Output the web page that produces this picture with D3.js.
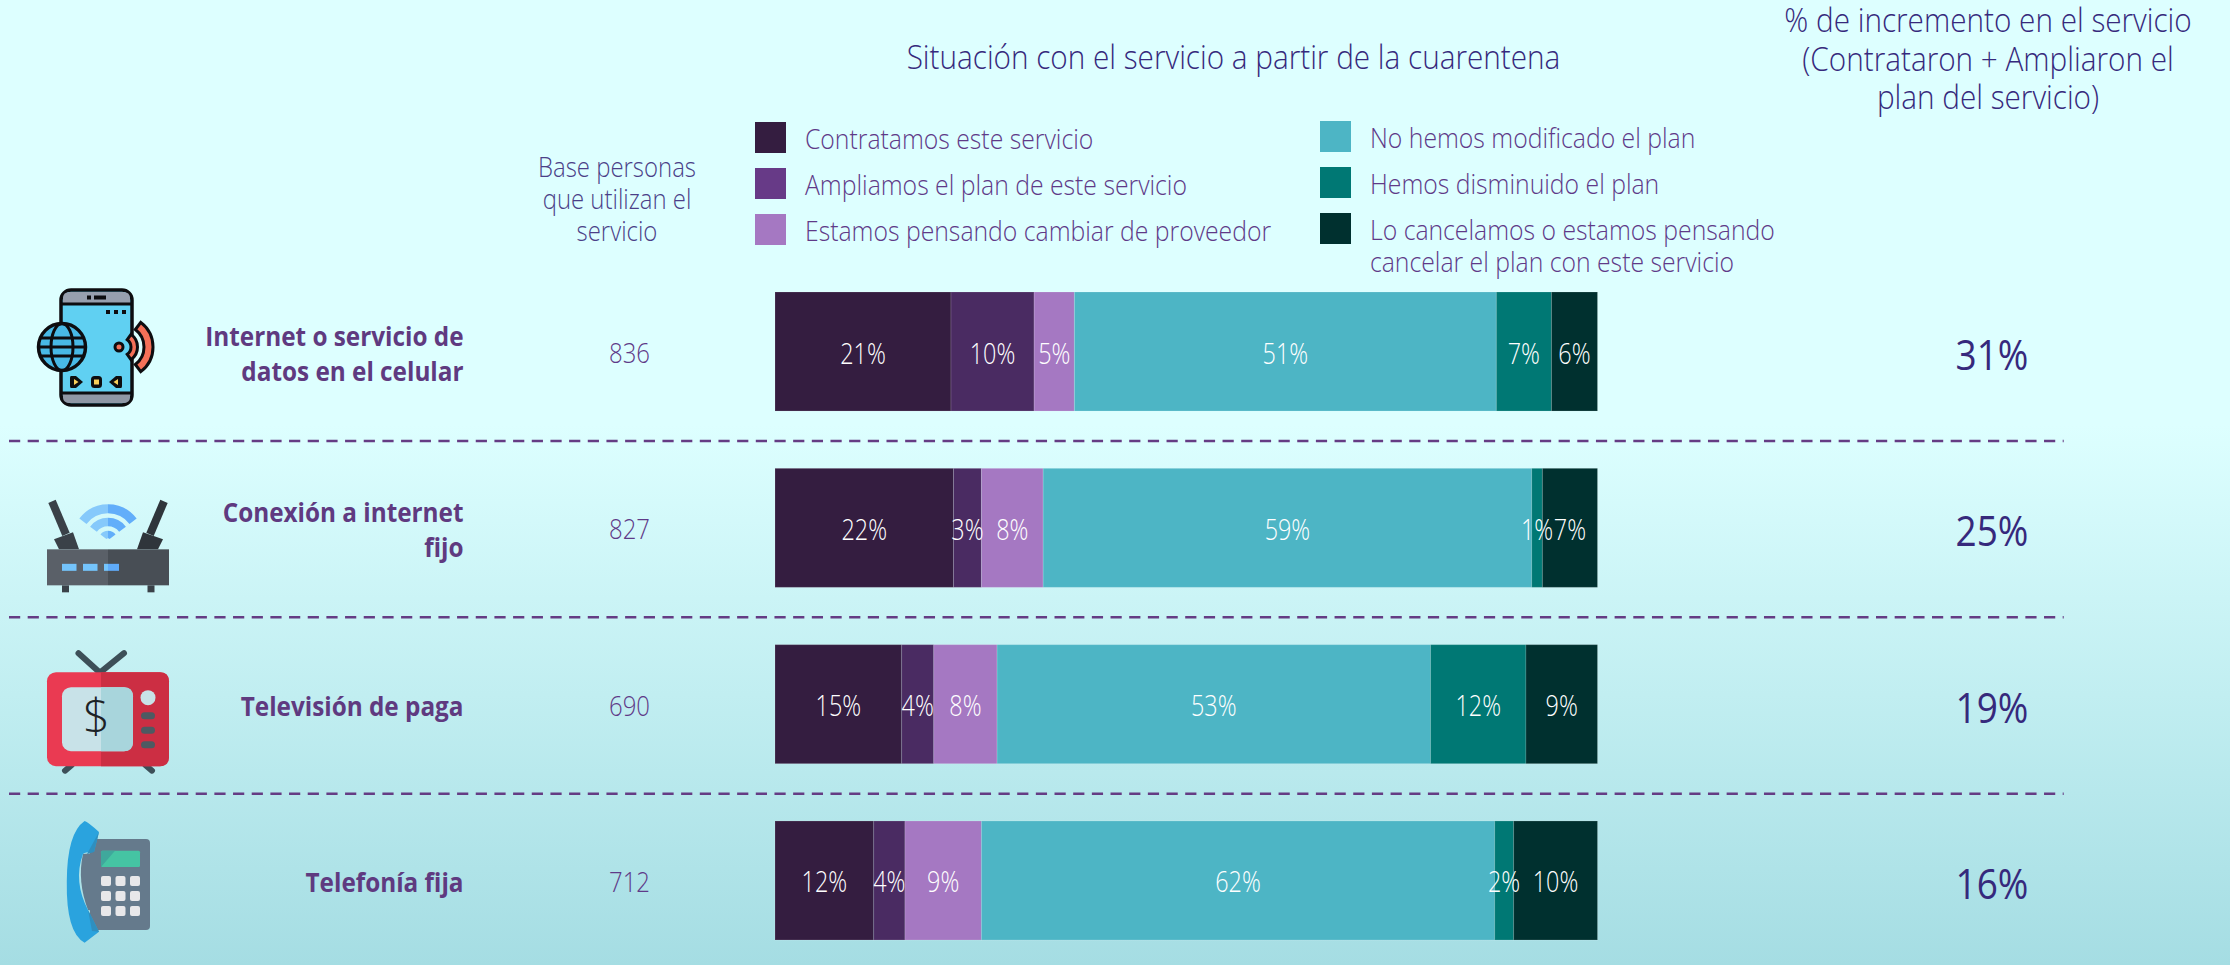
<!DOCTYPE html>
<html>
<head>
<meta charset="utf-8">
<script src="https://cdn.jsdelivr.net/npm/d3@7"></script>
<style>
  html, body { margin: 0; padding: 0; background: #ddffff; overflow: hidden; }
  text { font-family: "Open Sans", sans-serif; }
</style>
</head>
<body>
<div id="chart"></div>
<script>
const categories = ["Internet o servicio de datos en el celular", "Conexión a internet fijo", "Televisión de paga", "Telefonía fija"];
const categoryLines = [["Internet o servicio de", "datos en el celular"], ["Conexión a internet", "fijo"], ["Televisión de paga"], ["Telefonía fija"]];
const baseCounts = [836, 827, 690, 712];
const increments = [31, 25, 19, 16];

const seriesNames = ["Contratamos este servicio", "Ampliamos el plan de este servicio", "Estamos pensando cambiar de proveedor",
    "No hemos modificado el plan", "Hemos disminuido el plan", "Lo cancelamos o estamos pensando cancelar el plan con este servicio"];
const contratamos = [21.4, 21.7, 15.4, 12.0];
const ampliamos = [10.1, 3.4, 3.9, 3.8];
const cambiar = [4.9, 7.5, 7.7, 9.3];
const sinCambio = [51.3, 59.4, 52.7, 62.4];
const disminuido = [6.7, 1.3, 11.6, 2.3];
const cancelado = [5.6, 6.7, 8.7, 10.2];
const seriesValues = [contratamos, ampliamos, cambiar, sinCambio, disminuido, cancelado];

const barColors = ["#341d40", "#4a2b62", "#a578c2", "#4db5c5", "#007874", "#00302f"];
const legendColors = ["#341d40", "#673a87", "#a578c2", "#4db5c5", "#007874", "#00302f"];

const width = 2230, height = 965;
const INK = "#36297c", LILAC = "#5f3a88", BOLD = "#5f3a80";

const svg = d3.select("#chart").append("svg")
    .attr("width", width).attr("height", height)
    .attr("viewBox", `0 0 ${width} ${height}`)
    .style("display", "block");

const grad = svg.append("defs").append("linearGradient")
    .attr("id", "bg").attr("x1", 0).attr("x2", 0).attr("y1", 0).attr("y2", 1);
grad.append("stop").attr("offset", "44%").attr("stop-color", "#ddffff");
grad.append("stop").attr("offset", "100%").attr("stop-color", "#a5dde3");
svg.append("rect").attr("width", width).attr("height", height).attr("fill", "url(#bg)");

const x = d3.scaleLinear().domain([0, 100]).range([775, 1597.5]);
const y = d3.scaleBand().domain(categories).range([292, 940]).paddingInner(0.325).paddingOuter(0);

// squeeze a text to a share of its natural width, the original font runs narrower
function squeeze(sel, k) {
    sel.each(function () {
        const len = this.getComputedTextLength();
        d3.select(this).attr("textLength", len * k).attr("lengthAdjust", "spacingAndGlyphs");
    });
}

function addText(px, py, str, size, color, weight, anchor) {
    return svg.append("text").attr("x", px).attr("y", py).text(str)
        .attr("font-size", size).attr("fill", color)
        .attr("font-weight", weight).attr("text-anchor", anchor);
}

// headers
squeeze(addText(1233.5, 69, "Situación con el servicio a partir de la cuarentena", 33, INK, 300, "middle"), 0.9);
["% de incremento en el servicio", "(Contrataron + Ampliaron el", "plan del servicio)"].forEach((s, i) => {
    squeeze(addText(1988, 32 + i * 38.5, s, 33, INK, 300, "middle"), 0.9);
});
["Base personas", "que utilizan el", "servicio"].forEach((s, i) => {
    squeeze(addText(617, 176.5 + i * 32, s, 27.5, "#4b3f88", 300, "middle"), 0.87);
});

// legend
const legendSlots = [[755, 122], [755, 168], [755, 214], [1320, 121], [1320, 167], [1320, 213]];
const legendLines = [[seriesNames[0]], [seriesNames[1]], [seriesNames[2]], [seriesNames[3]], [seriesNames[4]],
    ["Lo cancelamos o estamos pensando", "cancelar el plan con este servicio"]];
legendSlots.forEach((slot, i) => {
    svg.append("rect").attr("x", slot[0]).attr("y", slot[1]).attr("width", 31).attr("height", 31)
        .attr("fill", legendColors[i]);
    legendLines[i].forEach((s, j) => {
        squeeze(addText(slot[0] + 50, slot[1] + 26.5 + j * 32, s, 27.5, LILAC, 300, "start"), 0.9);
    });
});

// stacked bars
const rows = categories.map((c, i) => {
    const r = { category: c };
    seriesNames.forEach((n, k) => { r[n] = seriesValues[k][i]; });
    return r;
});
const stacked = d3.stack().keys(seriesNames)(rows);
const pct = d3.format(".0f");

const layers = svg.append("g").selectAll("g").data(stacked).enter().append("g")
    .attr("fill", (d, i) => barColors[i]);
layers.selectAll("rect").data(d => d).enter().append("rect")
    .attr("x", d => x(d[0]))
    .attr("y", d => y(d.data.category))
    .attr("width", d => x(d[1]) - x(d[0]))
    .attr("height", y.bandwidth())
    .attr("stroke", "#fff").attr("stroke-opacity", 0.15).attr("stroke-width", 1);

// labels go in a group of their own, the narrow segments let them overflow
const barLabels = stacked.flatMap(layer => layer.map(p => ({
    category: p.data.category, from: p[0], to: p[1], value: p.data[layer.key]
})));
svg.append("g").selectAll("text").data(barLabels).enter().append("text")
    .attr("x", d => (x(d.from) + x(d.to)) / 2)
    .attr("y", d => y(d.category) + y.bandwidth() / 2 + 12)
    .attr("text-anchor", "middle").attr("fill", "#ffffff")
    .attr("font-size", 28.5).attr("font-weight", 300)
    .text(d => pct(d.value) + "%")
    .call(squeeze, 0.82);

// row labels
categories.forEach((c, i) => {
    const mid = y(c) + y.bandwidth() / 2;
    const lines = categoryLines[i];
    lines.forEach((s, j) => {
        const py = mid + 11.5 - (lines.length - 1) * 17.5 + j * 35;
        squeeze(addText(463.5, py, s, 27, BOLD, 700, "end"), 0.9);
    });
    squeeze(addText(629.5, mid + 11.5, baseCounts[i], 27.5, LILAC, 300, "middle"), 0.87);
    addText(1992, mid + 18.5, increments[i] + "%", 42, INK, 400, "middle").call(squeeze, 0.88);
});

// separators
svg.append("g").selectAll("line").data(categories.slice(0, -1)).enter().append("line")
    .attr("x1", 9).attr("x2", 2063.7)
    .attr("y1", d => y(d) + y.bandwidth() + 30)
    .attr("y2", d => y(d) + y.bandwidth() + 30)
    .attr("stroke", "#653c84").attr("stroke-width", 2.5).attr("stroke-dasharray", "11.2 7.47");

// icons, all drawn relative to the top of their bar
const icon = c => svg.append("g").attr("transform", `translate(0,${y(c)})`);
const arc = d3.arc();

function shape(g, name, attrs) {
    const el = g.append(name);
    Object.keys(attrs).forEach(k => el.attr(k, attrs[k]));
    return el;
}

function drawPhone(g) {
    const k = "#0d0d10";
    shape(g, "rect", { x: 61, y: -2, width: 71, height: 115, rx: 10, fill: "#60d0f2", stroke: k, "stroke-width": 3.5 });
    shape(g, "path", { d: "M63,11 V6 Q63,0 70,0 H123 Q130,0 130,6 V11 Z", fill: "#979fae" });
    shape(g, "path", { d: "M63,102 V105 Q63,111 70,111 H123 Q130,111 130,105 V102 Z", fill: "#8f97a5" });
    shape(g, "line", { x1: 61, x2: 132, y1: 12, y2: 12, stroke: k, "stroke-width": 3 });
    shape(g, "line", { x1: 61, x2: 132, y1: 101, y2: 101, stroke: k, "stroke-width": 3 });
    shape(g, "rect", { x: 87, y: 3.5, width: 4, height: 4, fill: k });
    shape(g, "rect", { x: 94, y: 3.5, width: 12, height: 4, fill: k });
    [106, 114, 122].forEach(px => shape(g, "rect", { x: px, y: 18, width: 4, height: 4, fill: k }));
    // bottom buttons: forward, stop, back
    shape(g, "path", { d: "M71,84 H76 L83,90 L76,96 H71 Q70,96 70,94 V86 Q70,84 71,84 Z", fill: k });
    shape(g, "path", { d: "M74,87 L78.5,90 L74,93 Z", fill: "#f8cf5a" });
    shape(g, "rect", { x: 91, y: 84, width: 11, height: 12, rx: 3.5, fill: k });
    shape(g, "rect", { x: 94, y: 87.5, width: 5, height: 5, fill: "#f8cf5a" });
    shape(g, "path", { d: "M121,84 H116 L109,90 L116,96 H121 Q122,96 122,94 V86 Q122,84 121,84 Z", fill: k });
    shape(g, "path", { d: "M118,87 L113.5,90 L118,93 Z", fill: "#f8cf5a" });
    // globe
    const gx = 62, gy = 55;
    shape(g, "circle", { cx: gx, cy: gy, r: 23.5, fill: "#48b9e6", stroke: k, "stroke-width": 3.5 });
    shape(g, "ellipse", { cx: gx, cy: gy, rx: 11, ry: 23.5, fill: "none", stroke: k, "stroke-width": 3 });
    [-9, 0, 9].forEach(dy => {
        const half = Math.sqrt(23.5 * 23.5 - dy * dy);
        shape(g, "line", { x1: gx - half, x2: gx + half, y1: gy + dy, y2: gy + dy, stroke: k, "stroke-width": 3 });
    });
    // signal
    shape(g, "circle", { cx: 119, cy: 55, r: 4, fill: "#f47058", stroke: k, "stroke-width": 3 });
    [[9, 15.5, 0.95], [22, 31, 0.92]].forEach(a => {
        const base = { startAngle: Math.PI / 2 - a[2], endAngle: Math.PI / 2 + a[2] };
        shape(g, "path", {
            d: arc({ ...base, innerRadius: a[0], outerRadius: a[1] }),
            transform: "translate(122,55)", fill: "#f47058", stroke: k, "stroke-width": 3
        });
    });
}

function drawRouter(g) {
    const dark = "#3a4148";
    shape(g, "line", { x1: 52, y1: 33, x2: 66, y2: 66, stroke: dark, "stroke-width": 8 });
    shape(g, "line", { x1: 164, y1: 33, x2: 150, y2: 66, stroke: "#2f353b", "stroke-width": 8 });
    shape(g, "path", { d: "M54,71 L73,64 L79,81 H59 Z", fill: dark });
    shape(g, "path", { d: "M163,71 L143,64 L137,81 H158 Z", fill: "#2f353b" });
    [[62, 69], [147.5, 154.5]].forEach(f => {
        shape(g, "rect", { x: f[0], y: 117, width: f[1] - f[0], height: 7, fill: dark });
    });
    shape(g, "rect", { x: 47, y: 81, width: 61, height: 36, fill: "#5a6068" });
    shape(g, "rect", { x: 108, y: 81, width: 61, height: 36, fill: "#484e55" });
    [62, 83].forEach(px => shape(g, "rect", { x: px, y: 95.5, width: 14.5, height: 7, fill: "#74c4fc" }));
    shape(g, "rect", { x: 104, y: 95.5, width: 4, height: 7, fill: "#74c4fc" });
    shape(g, "rect", { x: 108, y: 95.5, width: 11, height: 7, fill: "#5fabfa" });
    [[27, 36], [14, 22.5], [2, 9.5]].forEach(r => {
        [[-0.92, 0, "#86c9fb"], [0, 0.92, "#62aefa"]].forEach(s => {
            shape(g, "path", {
                d: arc({ innerRadius: r[0], outerRadius: r[1], startAngle: s[0], endAngle: s[1] }),
                transform: "translate(108,72)", fill: s[2]
            });
        });
    });
}

function drawTv(g) {
    const stem = "#3d4f58";
    [[100, 28, 78.5, 8.5], [100, 28, 124, 8.5], [72, 120, 65, 126], [145, 120, 152, 126]].forEach(a => {
        shape(g, "line", { x1: a[0], y1: a[1], x2: a[2], y2: a[3], stroke: stem, "stroke-width": 6, "stroke-linecap": "round" });
    });
    shape(g, "rect", { x: 47, y: 27.5, width: 122, height: 94, rx: 9, fill: "#ea3a52" });
    shape(g, "path", { d: "M101,27.5 H160 Q169,27.5 169,36.5 V112.5 Q169,121.5 160,121.5 H101 Z", fill: "#cc2e43" });
    shape(g, "rect", { x: 62, y: 42.5, width: 71, height: 64, rx: 9, fill: "#c8e2e8" });
    shape(g, "path", { d: "M101,42.5 H124 Q133,42.5 133,51.5 V97.5 Q133,106.5 124,106.5 H101 Z", fill: "#a8d5dc" });
    shape(g, "circle", { cx: 148, cy: 53, r: 7.5, fill: "#c8e2e8" });
    [71, 85.5, 100].forEach(py => shape(g, "rect", { x: 141, y: py - 3.5, width: 14, height: 7, rx: 3.5, fill: "#4d5a62" }));
    shape(g, "text", { x: 96.5, y: 88.5, "text-anchor": "middle", "font-size": 47, "font-weight": 300, fill: "#1d2226" }).text("$");
}

function drawLandline(g) {
    shape(g, "path", { d: "M95,32 L83,33 Q77,60 88,89 L101,91 Z", fill: "#657a8c" });
    shape(g, "rect", { x: 90, y: 18, width: 60, height: 91, rx: 4, fill: "#657a8c" });
    shape(g, "path", { d: "M84.6,0 Q88,1 99,11 L94,31 Q84,31 83,33 Q73,60 88,89 L99,110.7 L84.6,121.7 Q66,112 66.8,60.6 Q67,12 84.6,0 Z", fill: "#2aa3de" });
    shape(g, "path", { d: "M99,11 L94,31 L87,33 Z M88,89 L99,110.7 L92,110 Z", fill: "#2f8fbf" });
    shape(g, "rect", { x: 101, y: 29.7, width: 39, height: 16.3, rx: 1.5, fill: "#45c4a3" });
    shape(g, "path", { d: "M101,46 V31 Q101,29.7 102.5,29.7 H115 Z", fill: "#3fa89c" });
    [101, 115.5, 130].forEach(px => [55, 70, 85].forEach(py => {
        shape(g, "rect", { x: px, y: py, width: 10, height: 10, rx: 2, fill: "#e8e8ea" });
    }));
}

[drawPhone, drawRouter, drawTv, drawLandline].forEach((fn, i) => fn(icon(categories[i])));
</script>
</body>
</html>
